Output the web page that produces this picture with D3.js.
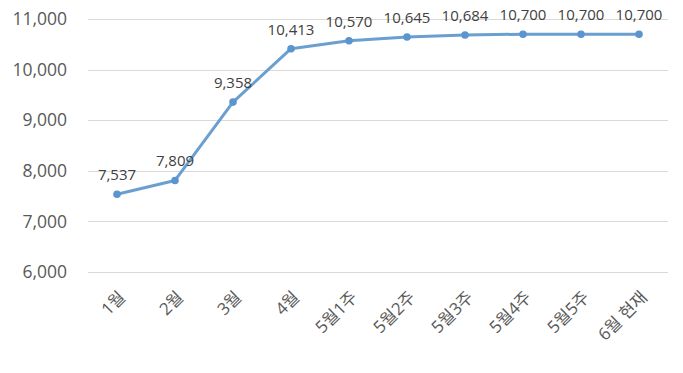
<!DOCTYPE html>
<html lang="ko">
<head>
  <meta charset="utf-8">
  <title>Line chart</title>
  <script src="https://d3js.org/d3.v7.min.js"></script>
  <style>
    body { margin: 0; background: #fff; font-family: "Open Sans", "Noto Sans CJK KR", sans-serif; }
    .grid line { stroke: #d9d9d9; stroke-width: 1px; }
    .ylab { font-size: 17.5px; fill: #595959; }
    .xlab { font-size: 17px; fill: #595959; }
    .dlab { font-size: 15px; fill: #404040; }
  </style>
</head>
<body>
  <div id="chart"></div>
  <script>
    // categories and values
    const categories = ["1월", "2월", "3월", "4월", "5월1주", "5월2주", "5월3주", "5월4주", "5월5주", "6월 현재"];
    const values = [7537, 7809, 9358, 10413, 10570, 10645, 10684, 10700, 10700, 10700];
    const yTicks = [6000, 7000, 8000, 9000, 10000, 11000];

    const width = 683, height = 373;
    const margin = {left: 88, right: 15, top: 19, bottom: 101};

    const svg = d3.select("#chart").append("svg")
      .attr("width", width)
      .attr("height", height);

    const x = d3.scaleBand()
      .domain(categories)
      .range([margin.left, width - margin.right]);

    const y = d3.scaleLinear()
      .domain([6000, 11000])
      .range([height - margin.bottom, margin.top]);

    const fmt = d3.format(",");

    // gridlines
    svg.append("g").attr("class", "grid")
      .selectAll("line")
      .data(yTicks)
      .join("line")
      .attr("x1", margin.left)
      .attr("x2", width - margin.right)
      .attr("y1", d => Math.round(y(d)) + 0.5)
      .attr("y2", d => Math.round(y(d)) + 0.5);

    // y labels
    svg.append("g")
      .selectAll("text")
      .data(yTicks)
      .join("text")
      .attr("class", "ylab")
      .attr("x", margin.left - 21)
      .attr("y", d => y(d))
      .attr("dy", "0.35em")
      .attr("text-anchor", "end")
      .text(d => fmt(d));

    // x labels, rotated
    svg.append("g")
      .selectAll("text")
      .data(categories)
      .join("text")
      .attr("class", "xlab")
      .attr("text-anchor", "end")
      .attr("transform", d => `translate(${x(d) + x.bandwidth() / 2 + 1},${height - margin.bottom + 18}) rotate(-45)`)
      .attr("dy", "0.7em")
      .text(d => d);

    const cx = (d, i) => x(categories[i]) + x.bandwidth() / 2;

    // line
    const line = d3.line()
      .x((d, i) => cx(d, i))
      .y(d => y(d));

    svg.append("path")
      .datum(values)
      .attr("d", line)
      .attr("fill", "none")
      .attr("stroke", "#6a9fd0")
      .attr("stroke-width", 3)
      .attr("stroke-linejoin", "round");

    svg.append("g")
      .selectAll("circle")
      .data(values)
      .join("circle")
      .attr("cx", cx)
      .attr("cy", d => y(d))
      .attr("r", 3.8)
      .attr("fill", "#5b95cf");

    // data labels
    svg.append("g")
      .selectAll("text")
      .data(values)
      .join("text")
      .attr("class", "dlab")
      .attr("x", cx)
      .attr("y", d => y(d) - 14)
      .attr("text-anchor", "middle")
      .text(d => fmt(d));
  </script>
</body>
</html>
